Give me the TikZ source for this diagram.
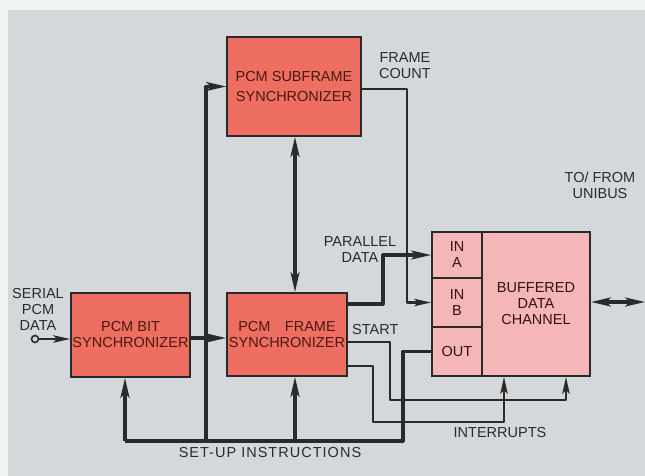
\documentclass[tikz,border=0pt]{standalone}
\usepackage{fontspec}
\setmainfont{Liberation Sans}
\usetikzlibrary{arrows.meta,calc}
\definecolor{bg}{HTML}{D5D8DA}
\definecolor{paper}{HTML}{F2F3F3}
\definecolor{salmon}{HTML}{EE6F61}
\definecolor{pinkc}{HTML}{F4B6B6}
\definecolor{ink}{HTML}{2A2A2A}
\definecolor{boxtext}{HTML}{4A1810}
\begin{document}
\begin{tikzpicture}[x=1pt,y=-1pt,
  txt/.style={font=\fontsize{14.5}{16}\selectfont},
  block/.style={txt, draw=ink, line width=1.8pt, fill=salmon, text=boxtext, align=center, inner sep=0pt},
  cell/.style={txt, draw=ink, line width=1.8pt, fill=pinkc, text=boxtext!70!black, align=center, inner sep=0pt},
  lab/.style={txt, text=ink, align=center, inner sep=0pt},
  thickline/.style={draw=ink, line width=3.2pt, line join=round},
  thinline/.style={draw=ink, line width=2.2pt, line join=round},
  arr/.style={-{Stealth[length=20pt,width=9pt,inset=5pt]}},
  tarr/.style={-{Stealth[length=17pt,width=7.5pt,inset=4pt]}},
  darr/.style={{Stealth[length=20pt,width=9pt,inset=5pt]}-{Stealth[length=20pt,width=9pt,inset=5pt]}}]
\useasboundingbox (0,0) rectangle (645,476);
\fill[paper] (0,0) rectangle (645,476);
\fill[bg] (8,10) rectangle (645,476);

% blocks
\node[block, minimum width=119pt, minimum height=84pt] (bit) at (130.5,335) {PCM BIT\\SYNCHRONIZER};
\node[block, minimum width=134pt, minimum height=99pt] (sub) at (294,86.5) {PCM SUBFRAME\\[4pt]SYNCHRONIZER};
\node[block, minimum width=120pt, minimum height=83pt] (frame) at (287,334.5) {PCM\quad FRAME\\SYNCHRONIZER};
\node[cell, minimum width=50pt, minimum height=46pt] (ina) at (457,255) {IN\\A};
\node[cell, minimum width=50pt, minimum height=49pt] (inb) at (457,302.5) {IN\\B};
\node[cell, minimum width=50pt, minimum height=49pt] (out) at (457,351.5) {OUT};
\node[cell, minimum width=108pt, minimum height=144pt] (bdc) at (536,304) {BUFFERED\\DATA\\CHANNEL};

% serial input
\node[circle, draw=ink, line width=1.6pt, fill=bg, inner sep=0pt, minimum size=7pt] (ser) at (35,339) {};
\draw[thinline, tarr] (ser.east) -- (ser -| bit.west);

% bit -> frame
\coordinate (bf) at (200,338);
\draw[thickline, arr] (bf -| bit.east) -- (bf -| frame.west);

% set-up bus
\coordinate (bx) at (125,441);
\coordinate (vb) at (206,441);
\coordinate (fb) at (295,441);
\coordinate (oc) at (403,441);
\draw[thickline] (bx) -- (oc) -- (oc |- out.west) -- (out.west);
\draw[thickline, arr] (bx) -- (bx |- bit.south);
\draw[thickline, arr] (vb) -- (vb |- sub.west) -- (sub.west);
\draw[thickline, arr] (fb) -- (fb |- frame.south);
\draw[thickline, darr] (fb |- sub.south) -- (fb |- frame.north);

% frame count
\coordinate (fc) at (407,89);
\draw[thinline, tarr] (fc -| sub.east) -- (fc) -- (fc |- inb.west) -- (inb.west);

% parallel data
\coordinate (pd) at (383,304);
\draw[thickline, arr] (pd -| frame.east) -- (pd) -- (pd |- ina.west) -- (ina.west);

% start
\coordinate (st) at (390,342);
\coordinate (sa) at (566,400);
\draw[thinline, tarr] (st -| frame.east) -- (st) -- (st |- sa) -- (sa) -- (sa |- bdc.south);

% interrupt line
\coordinate (ot) at (373,366);
\coordinate (oa) at (504,422);
\draw[thinline, tarr] (ot -| frame.east) -- (ot) -- (ot |- oa) -- (oa) -- (oa |- bdc.south);

% unibus
\coordinate (ub) at (645,302);
\draw[thickline, darr] (ub -| bdc.east) -- (ub);

% labels
\node[lab] (lser) at (38,309) {SERIAL\\PCM\\DATA};
\node[lab] (lfc) at (405,66) {FRAME\\COUNT};
\node[lab] (lpd) at (360,250) {PARALLEL\\DATA};
\node[lab, anchor=west] (lst) at (352,330) {START};
\node[lab] (lsu) at (270,453) {\addfontfeature{LetterSpace=7}SET-UP INSTRUCTIONS};
\node[lab] (lint) at (500,433) {INTERRUPTS};
\node[lab] (lub) at (600,185) {TO/ FROM\\UNIBUS};
\end{tikzpicture}
\end{document}
